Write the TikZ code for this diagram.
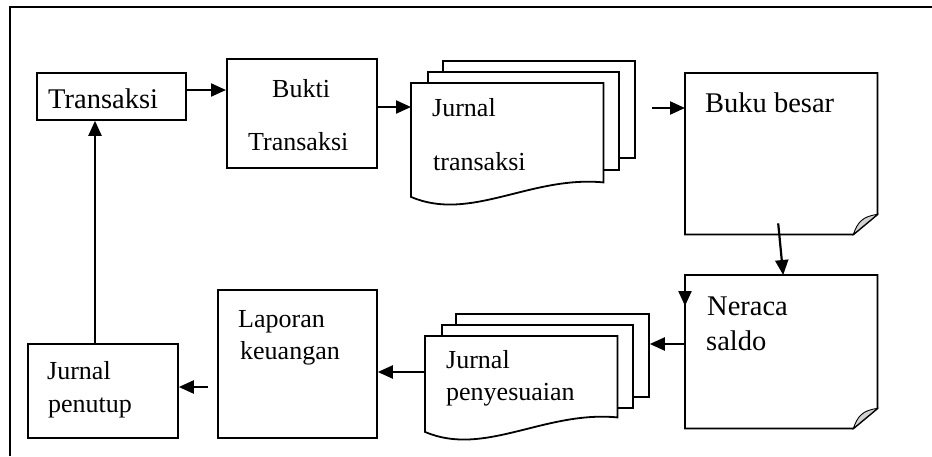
\documentclass[tikz,border=0pt]{standalone}
\usepackage{fontspec}
\setmainfont{Liberation Serif}
\usetikzlibrary{arrows.meta}
\usetikzlibrary{calc}
\tikzset{box/.style={draw, line width=1.8pt, inner sep=0pt, anchor=north west}}
\tikzset{page/.style={box, fill=white}}
\tikzset{blank/.style={inner sep=0pt, anchor=north west}}
\tikzset{arr/.style={line width=2.2pt, -{Triangle[length=15pt,width=13pt]}}}
\tikzset{lbl/.style={inner sep=0pt, anchor=base west, font=\fontsize{26}{30}\selectfont}}
\tikzset{biglbl/.style={lbl, font=\fontsize{28.5}{32}\selectfont}}
\newcommand{\wavypage}[1]{\draw[line width=1.8pt, fill=white] (#1.north west) -- (#1.north east) -- (#1.south east) .. controls ($(#1.south east)+(-73,-7)$) and ($(#1.south east)+(-133,40)$) .. ($(#1.south west)+(0,14.5)$) -- cycle;}
\newcommand{\foldpage}[1]{\draw[line width=1.8pt] (#1.north west) -- (#1.north east) -- ($(#1.south east)+(0,-20)$) -- ($(#1.south east)+(-24,0)$) -- (#1.south west) -- cycle;
\draw[line width=0.9pt, fill=gray!35] ($(#1.south east)+(-24,0)$) .. controls ($(#1.south east)+(-20,-12)$) and ($(#1.south east)+(-15,-18)$) .. ($(#1.south east)+(0,-20)$) -- cycle;}
\begin{document}
\begin{tikzpicture}[x=1pt, y=-1pt]
\useasboundingbox (0,0) rectangle (932,456);
\draw[line width=2.2pt] (10,456) -- (10,7) -- (932,7);

\node[box, minimum width=149pt, minimum height=47pt] (trans) at (36,72) {};
\node[box, minimum width=150pt, minimum height=109pt] (bukti) at (226,58) {};
\node[page, minimum width=192pt, minimum height=97pt] (jtb) at (442,60) {};
\node[page, minimum width=191pt, minimum height=98pt] (jtm) at (427,71) {};
\node[blank, minimum width=192pt, minimum height=99pt] (jt) at (411,83) {};
\wavypage{jt}
\node[blank, minimum width=192pt, minimum height=161pt] (buku) at (685,73) {};
\foldpage{buku}
\node[blank, minimum width=192pt, minimum height=153pt] (neraca) at (685,275) {};
\foldpage{neraca}
\node[page, minimum width=193pt, minimum height=83pt] (jpb) at (455,313) {};
\node[page, minimum width=191pt, minimum height=83pt] (jpm) at (441,324) {};
\node[blank, minimum width=192pt, minimum height=81pt] (jp) at (425,336) {};
\wavypage{jp}
\node[box, minimum width=159pt, minimum height=148pt] (lap) at (217,289) {};
\node[box, minimum width=150pt, minimum height=94pt] (jpen) at (27,343) {};

\node[biglbl] (t-trans) at (48,108) {Transaksi};
\node[lbl] (t-bukti1) at (272,97) {Bukti};
\node[lbl] (t-bukti2) at (248,150) {Transaksi};
\node[lbl] (t-jt1) at (432,116) {Jurnal};
\node[lbl] (t-jt2) at (433,170) {transaksi};
\node[biglbl] (t-buku) at (705,112) {Buku besar};
\node[biglbl] (t-ner1) at (707,315) {Neraca};
\node[biglbl] (t-ner2) at (706,350) {saldo};
\node[lbl] (t-jp1) at (446,368) {Jurnal};
\node[lbl] (t-jp2) at (446,400) {penyesuaian};
\node[lbl] (t-lap1) at (238,327) {Laporan};
\node[lbl] (t-lap2) at (240,359) {keuangan};
\node[lbl] (t-jpen1) at (47,379) {Jurnal};
\node[lbl] (t-jpen2) at (48,412) {penutup};

\draw[arr] (trans.east |- 0,90) -- (bukti.west |- 0,90);
\draw[arr] (bukti.east |- 0,107) -- (jt.west |- 0,107);
\draw[arr] ([xshift=16pt]jtb.east |- 0,108) -- (buku.west |- 0,108);
\draw[arr] ($(buku.south)+(-3,-11)$) -- ($(neraca.north)+(2,0)$);
\draw[arr] (neraca.north west) -- ++(0,31);
\draw[arr] (neraca.west |- 0,344) -- (jpb.east |- 0,344);
\draw[arr] (jp.west |- 0,372) -- (lap.east |- 0,372);
\draw[arr] ([xshift=-9pt]lap.west |- 0,387) -- (jpen.east |- 0,387);
\draw[arr] (jpen.north -| 95,0) -- (trans.south -| 95,0);
\end{tikzpicture}
\end{document}
